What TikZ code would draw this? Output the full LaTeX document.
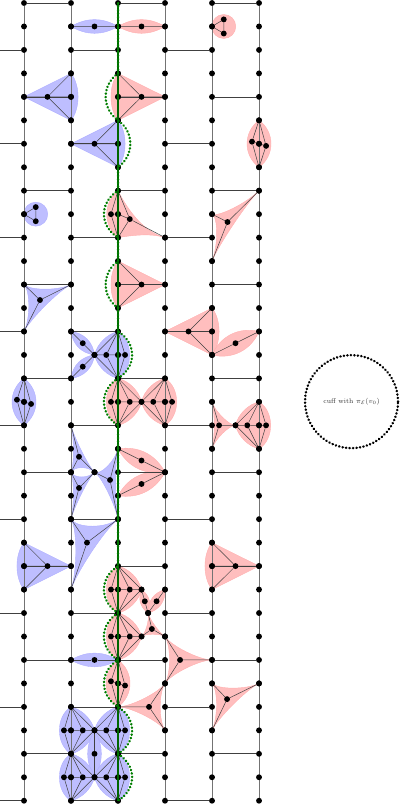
\documentclass[tikz,border=0pt]{standalone}
\usetikzlibrary{calc}
\pgfdeclarelayer{bg}\pgfdeclarelayer{lines}\pgfdeclarelayer{top}
\pgfsetlayers{bg,lines,main,top}
\definecolor{rosy}{RGB}{255,190,190}
\definecolor{skyb}{RGB}{190,190,255}
\definecolor{rosyl}{RGB}{255,175,175}
\definecolor{skyl}{RGB}{175,175,255}
\definecolor{cuffg}{RGB}{0,125,0}
\tikzset{
 vtx/.style={circle,fill=black,inner sep=0pt,minimum size=5.9pt},
 wire/.style={line width=.5pt,black!75},
 railw/.style={line width=.8pt,black!55},
 rungw/.style={line width=.6pt,black!75},
 rosefill/.style={fill=rosy,draw=rosyl,line width=.4pt},
 skyfill/.style={fill=skyb,draw=skyl,line width=.4pt},
 cuffline/.style={cuffg,line width=2.5pt,line cap=round,dash pattern=on .3pt off 3.2pt},
 spine/.style={green!40!black,line width=1.8pt},
 bigcuff/.style={draw=black,line width=2.5pt,line cap=round,dash pattern=on .3pt off 3.2pt}
}
% kite: apex one column away, far side bulging
\newcommand\kite[5]{\begin{scope}[shift={(#3,#4)},xscale=#5,name prefix=#1-]
 \node[vtx] (a) at (1,0) {}; \node[vtx] (t) at (0,-1) {}; \node[vtx] (b) at (0,1) {};
 \node[vtx] (m) at (.5,0) {}; \node[vtx] (o) at (0,0) {};
 \begin{pgfonlayer}{bg}\path[#2] (1,0) -- (0,-1) .. controls (-.2,-.5) and (-.2,.5) .. (0,1) -- cycle;\end{pgfonlayer}
 \begin{pgfonlayer}{lines}\draw[wire] (a)--(m)--(o) (t)--(m)--(b);\end{pgfonlayer}
\end{scope}}
% fan: apex half a column away, three inner vertices
\newcommand\fan[5]{\begin{scope}[shift={(#3,#4)},xscale=#5,name prefix=#1-]
 \node[vtx] (a) at (.5,0) {}; \node[vtx] (t) at (0,-1) {}; \node[vtx] (b) at (0,1) {};
 \node[vtx] (l) at (-.15,0) {}; \node[vtx] (o) at (0,0) {}; \node[vtx] (r) at (.25,0) {};
 \begin{pgfonlayer}{bg}\path[#2] (.5,0) .. controls (.44,-.5) and (.22,-.9) .. (0,-1)
   .. controls (-.33,-.6) and (-.33,.6) .. (0,1) .. controls (.22,.9) and (.44,.5) .. (.5,0) -- cycle;\end{pgfonlayer}
 \begin{pgfonlayer}{lines}\draw[wire] (a)--(r)--(o)--(l) (t)--(a)--(b) (t)--(r)--(b) (t)--(l)--(b);\end{pgfonlayer}
\end{scope}}
% vertical lens with three inner vertices
\newcommand\tlens[4]{\begin{scope}[shift={(#3,#4)},name prefix=#1-]
 \node[vtx] (t) at (0,-1) {}; \node[vtx] (b) at (0,1) {};
 \node[vtx] (l) at (-.15,-.09) {}; \node[vtx] (o) at (0,0) {}; \node[vtx] (r) at (.15,.09) {};
 \begin{pgfonlayer}{bg}\path[#2] (0,-1) .. controls (-.34,-.5) and (-.34,.5) .. (0,1)
   .. controls (.34,.5) and (.34,-.5) .. (0,-1) -- cycle;\end{pgfonlayer}
 \begin{pgfonlayer}{lines}\draw[wire] (l)--(o)--(r) (t)--(l)--(b) (t)--(r)--(b);\end{pgfonlayer}
\end{scope}}
% lens between two vertices with a middle vertex
\newcommand\lens[5]{\begin{scope}[name prefix=#1-]
 \node[vtx] (p) at (#3) {}; \node[vtx] (q) at (#4) {};
 \node[vtx] (m) at ($(p)!.5!(q)$) {};
 \begin{pgfonlayer}{bg}\path[#2] (#3) to[bend left=#5] (#4) to[bend left=#5] (#3) -- cycle;\end{pgfonlayer}
 \begin{pgfonlayer}{lines}\draw[wire] (p)--(m)--(q);\end{pgfonlayer}
\end{scope}}
% concave triangle
\newcommand\tri[6]{\begin{scope}[name prefix=#1-]
 \node[vtx] (p) at (#3) {}; \node[vtx] (q) at (#4) {}; \node[vtx] (s) at (#5) {}; \node[vtx] (m) at (#6) {};
 \begin{pgfonlayer}{bg}\path[#2] (#3) .. controls ($(p)!.4!(m)$) and ($(q)!.4!(m)$) .. (#4)
   .. controls ($(q)!.4!(m)$) and ($(s)!.4!(m)$) .. (#5)
   .. controls ($(s)!.4!(m)$) and ($(p)!.4!(m)$) .. (#3) -- cycle;\end{pgfonlayer}
 \begin{pgfonlayer}{lines}\draw[wire] (p)--(m) (q)--(m) (s)--(m);\end{pgfonlayer}
\end{scope}}
% disc with triangle
\newcommand\triball[4]{\begin{scope}[shift={(#3,#4)},name prefix=#1-]
 \node[vtx] (o) at (0,0) {}; \node[vtx] (u) at (.25,-.3) {}; \node[vtx] (d) at (.25,.3) {};
 \begin{pgfonlayer}{bg}\path[#2] (.25,0) circle[radius=12pt];\end{pgfonlayer}
 \begin{pgfonlayer}{lines}\draw[wire] (o)--(u)--(d)--(o);\end{pgfonlayer}
\end{scope}}
\begin{document}
\begin{tikzpicture}[x=47pt,y=-23.46pt]
\useasboundingbox (-.5106,-.1279) rectangle (8.0213,34.14);
% grid vertices
\foreach \c in {0,...,5} \foreach \j in {0,...,34} \node[vtx] (v-\c-\j) at (\c,\j) {};
\begin{pgfonlayer}{lines}
 \foreach \c in {0,...,5} \draw[railw] (v-\c-0) -- (v-\c-34);
 \foreach \j in {0,4,...,32} \foreach \c/\d in {0/1,2/3,4/5} \draw[rungw] (v-\c-\j) -- (v-\d-\j);
 \foreach \j in {2,6,...,34} {
   \coordinate (s-\j) at (-.5106,\j);
   \draw[rungw] (s-\j) -- (v-0-\j);
   \foreach \c/\d in {1/2,3/4} \draw[rungw] (v-\c-\j) -- (v-\d-\j);
 }
\end{pgfonlayer}
% pieces
\lens{A1}{skyfill}{1,1}{2,1}{30}
\lens{A2}{rosefill}{2,1}{3,1}{30}
\triball{A3}{rosefill}{4}{1}
\kite{A4}{skyfill}{1}{4}{-1}
\kite{A5}{rosefill}{2}{4}{1}
\kite{A6}{skyfill}{2}{6}{-1}
\tlens{A7}{rosefill}{5}{6}
\triball{A8}{skyfill}{0}{9}
% irregular piece at the third cuff
\begin{scope}[name prefix=A9-]
 \node[vtx] (t) at (2,8) {}; \node[vtx] (b) at (2,10) {}; \node[vtx] (e) at (3,10) {};
 \node[vtx] (l) at (1.85,9) {}; \node[vtx] (o) at (2,9) {}; \node[vtx] (r) at (2.25,9.21) {};
 \begin{pgfonlayer}{bg}\path[rosefill] (2,8) .. controls (1.68,8.5) and (1.68,9.5) .. (2,10)
   .. controls (2.3,9.9) and (2.7,9.8) .. (3,10) .. controls (2.6,9.8) and (2.25,9) .. (2,8) -- cycle;\end{pgfonlayer}
 \begin{pgfonlayer}{lines}\draw[wire] (t)--(l)--(b) (l)--(o)--(r) (t)--(r)--(e) (b)--(r);\end{pgfonlayer}
\end{scope}
\tri{A10}{rosefill}{5,8}{4,9}{4,11}{4.33,9.335}
\kite{A11}{rosefill}{2}{12}{1}
\tri{A12}{skyfill}{0,12}{1,12}{0,14}{.34,12.66}
\kite{A13}{rosefill}{4}{14}{-1}
\lens{A13b}{rosefill}{4,15}{5,14}{40}
\fan{A14}{skyfill}{2}{15}{-1}
\lens{A14b}{skyfill}{1,14}{1.5,15}{38}
\lens{A14c}{skyfill}{1.5,15}{1,16}{38}
\tlens{A15}{skyfill}{0}{17}
\fan{A16}{rosefill}{2}{17}{1}
\fan{A16b}{rosefill}{3}{17}{-1}
\tri{A17}{rosefill}{4,17}{4,19}{4.5,18}{4.15,18}
\fan{A17b}{rosefill}{5}{18}{-1}
\tri{A18}{skyfill}{1,18}{1,20}{1.5,20}{1.17,19.34}
\tri{A18b}{skyfill}{1,20}{1,22}{1.5,20}{1.17,20.67}
\tri{A18c}{skyfill}{1.5,20}{2,19}{2,22}{1.83,20.33}
\lens{A19}{rosefill}{2,19}{3,20}{35}
\lens{A19b}{rosefill}{3,20}{2,21}{35}
\tri{A20}{skyfill}{1,22}{2,22}{1,25}{1.34,23}
\kite{A21}{skyfill}{0}{24}{1}
\kite{A22}{rosefill}{4}{24}{1}
\fan{A23}{rosefill}{2}{25}{1}
\lens{A23b}{rosefill}{2.5,25}{2.64,26}{40}
\lens{A23c}{rosefill}{3,25}{2.64,26}{40}
\tri{A23d}{rosefill}{2.64,26}{2.5,27}{3,27}{2.72,26.68}
\fan{A24}{rosefill}{2}{27}{1}
\lens{A25}{skyfill}{1,28}{2,28}{30}
\tri{A26}{rosefill}{3,27}{4,28}{3,29}{3.32,28}
\tlens{A27}{rosefill}{2}{29}
\tri{A28}{rosefill}{4,29}{5,29}{4,31}{4.32,29.67}
\tri{A29}{rosefill}{2,30}{3,29}{3,31}{2.66,30}
\fan{A30}{skyfill}{1}{31}{1}
\fan{A30b}{skyfill}{2}{31}{-1}
\lens{A30c}{skyfill}{1.5,31}{1.5,33}{30}
\fan{A30d}{skyfill}{1}{33}{1}
\fan{A30e}{skyfill}{2}{33}{-1}
% cuff
\begin{pgfonlayer}{top}
 \draw[spine] (v-2-0.center) -- (v-2-34.center);
 \draw[cuffline] (v-2-0.center) -- (v-2-3.center)
  .. controls +(-.35,.5) and +(-.35,-.5) .. (v-2-5.center)
  .. controls +(.35,.5) and +(.35,-.5) .. (v-2-7.center) -- (v-2-8.center)
  .. controls +(-.4,.5) and +(-.4,-.5) .. (v-2-10.center) -- (v-2-11.center)
  .. controls +(-.35,.5) and +(-.35,-.5) .. (v-2-13.center) -- (v-2-14.center)
  .. controls +(.4,.5) and +(.4,-.5) .. (v-2-16.center)
  .. controls +(-.4,.5) and +(-.4,-.5) .. (v-2-18.center) -- (v-2-24.center)
  .. controls +(-.4,.5) and +(-.4,-.5) .. (v-2-26.center)
  .. controls +(-.4,.5) and +(-.4,-.5) .. (v-2-28.center)
  .. controls +(-.4,.5) and +(-.4,-.5) .. (v-2-30.center)
  .. controls +(.4,.5) and +(.4,-.5) .. (v-2-32.center)
  .. controls +(.4,.5) and +(.4,-.5) .. (v-2-34.center);
\end{pgfonlayer}
% legend
\node[circle,inner sep=0pt,minimum size=93pt,bigcuff] (legend) at (6.968,16.99) {};
\node[font=\fontsize{6.8}{8}\selectfont,black!80] (legendtext) at (legend.center) {cuff with $\pi_{\mathcal{E}}(v_0)$};
\end{tikzpicture}
\end{document}
